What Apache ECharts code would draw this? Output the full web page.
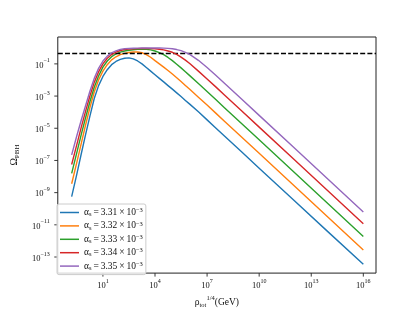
<!DOCTYPE html>
<html><head><meta charset="utf-8">
<script src="https://cdn.jsdelivr.net/npm/echarts@6/dist/echarts.min.js"></script>
<style>html,body{margin:0;padding:0;background:#fff}#c{width:418px;height:314px}</style>
</head><body><div id="c"></div>
<script>
// log10 of rho_tot^{1/4} in GeV (shared x samples)
const log10Rho = [-0.8, -0.5, -0.25, 0, 0.25, 0.5, 0.75, 1, 1.25, 1.5, 1.75, 2, 2.25, 2.5, 2.75, 3, 3.25, 3.5, 3.75, 4, 4.25, 4.5, 4.75, 5, 5.25, 5.5, 5.75, 6, 6.5, 7, 7.5, 8, 9, 10, 12, 14, 16];
// log10 of Omega_PBH for each alpha_s
const log10OmegaA331 = [-9.25, -7.83, -6.6, -5.4, -4.25, -3.15, -2.35, -1.78, -1.36, -1.05, -0.85, -0.72, -0.65, -0.63, -0.69, -0.82, -1.0, -1.22, -1.45, -1.68, -1.9, -2.12, -2.35, -2.57, -2.8, -3.03, -3.27, -3.5, -3.98, -4.48, -4.98, -5.48, -6.48, -7.48, -9.47, -11.47, -13.45];
const log10OmegaA332 = [-8.45, -7.1, -5.95, -4.8, -3.72, -2.75, -2.0, -1.45, -1.05, -0.75, -0.56, -0.43, -0.35, -0.29, -0.26, -0.26, -0.31, -0.42, -0.59, -0.8, -1.0, -1.2, -1.41, -1.63, -1.86, -2.1, -2.34, -2.58, -3.07, -3.56, -4.06, -4.56, -5.56, -6.56, -8.56, -10.56, -12.56];
const log10OmegaA333 = [-7.8, -6.5, -5.4, -4.35, -3.35, -2.45, -1.75, -1.2, -0.82, -0.55, -0.38, -0.27, -0.2, -0.15, -0.12, -0.1, -0.09, -0.1, -0.13, -0.2, -0.3, -0.43, -0.6, -0.8, -1.02, -1.25, -1.49, -1.73, -2.22, -2.72, -3.22, -3.72, -4.72, -5.72, -7.72, -9.72, -11.72];
const log10OmegaA334 = [-7.25, -6.0, -4.95, -3.95, -3.0, -2.15, -1.5, -1.0, -0.65, -0.42, -0.27, -0.17, -0.11, -0.08, -0.06, -0.05, -0.04, -0.04, -0.05, -0.06, -0.09, -0.13, -0.2, -0.28, -0.41, -0.58, -0.77, -0.98, -1.45, -1.94, -2.43, -2.93, -3.93, -4.93, -6.93, -8.93, -10.93];
const log10OmegaA335 = [-6.65, -5.45, -4.5, -3.6, -2.7, -1.9, -1.28, -0.82, -0.52, -0.32, -0.19, -0.1, -0.06, -0.04, -0.03, -0.02, -0.01, -0.01, -0.01, -0.01, -0.015, -0.02, -0.04, -0.06, -0.11, -0.18, -0.28, -0.41, -0.78, -1.23, -1.71, -2.2, -3.2, -4.2, -6.2, -8.2, -10.2];
// dashed reference level (log10 Omega)
const log10OmegaRef = -0.35;
// legend labels / alpha_s values (x 10^-3)
const alphaLabels = ['3.31', '3.32', '3.33', '3.34', '3.35'];
// tick exponents
const xTickExps = [1, 4, 7, 10, 13, 16];
const yTickExps = [-13, -11, -9, -7, -5, -3, -1];

const seriesValues = [log10OmegaA331, log10OmegaA332, log10OmegaA333, log10OmegaA334, log10OmegaA335];
const colors = ['#1f77b4', '#ff7f0e', '#2ca02c', '#d62728', '#9467bd'];
const FONT = 'Liberation Serif';
const X_MIN = -1.6, X_MAX = 16.73, Y_MIN = -14.0, Y_MAX = 0.67;
const TS = '\u2009';

const powRich = {
  b: {fontFamily: FONT, fontSize: 8.5, color: '#111', lineHeight: 12, verticalAlign: 'bottom'},
  e: {fontFamily: FONT, fontSize: 6, color: '#111', lineHeight: 6, verticalAlign: 'top'}
};
function powLabel(v) {
  const n = Math.round(v);
  return '{b|10}{e|' + String(n).replace('-', '\u2212') + '}';
}

const series = seriesValues.map((vals, i) => ({
  name: 'a' + alphaLabels[i],
  type: 'line',
  data: log10Rho.map((x, j) => [x, vals[j]]),
  showSymbol: false,
  symbol: 'none',
  smooth: false,
  lineStyle: {color: colors[i], width: 1.4, join: 'round'},
  itemStyle: {color: colors[i]},
  z: 2 + i
}));
series.push({
  name: 'ref',
  type: 'line',
  data: [],
  silent: true,
  z: 10,
  markLine: {
    silent: true,
    symbol: 'none',
    label: {show: false},
    lineStyle: {color: '#000', width: 1.4, type: [5, 2.2]},
    data: [{yAxis: log10OmegaRef}]
  }
});

const chart = echarts.init(document.getElementById('c'), null, {renderer: 'canvas'});
chart.setOption({
  animation: false,
  backgroundColor: '#fff',
  grid: {left: 52, right: 42, top: 37, bottom: 35, show: true, borderColor: '#222', borderWidth: 1, backgroundColor: 'transparent'},
  xAxis: {
    type: 'value', min: X_MIN, max: X_MAX,
    axisLine: {show: false},
    splitLine: {show: false},
    axisTick: {show: false},
    axisLabel: {customValues: xTickExps, margin: 5, formatter: powLabel, rich: powRich},
    name: 'ρ{sub|tot}{sup|1/4}(GeV)',
    nameLocation: 'middle', nameGap: 15,
    nameTextStyle: {
      fontFamily: FONT, fontSize: 9.5, color: '#111', lineHeight: 14, verticalAlign: 'top',
      rich: {
        sub: {fontFamily: FONT, fontSize: 6.5, color: '#111', lineHeight: 6, verticalAlign: 'bottom'},
        sup: {fontFamily: FONT, fontSize: 6.5, color: '#111', lineHeight: 6, verticalAlign: 'top'}
      }
    }
  },
  yAxis: {
    type: 'value', min: Y_MIN, max: Y_MAX,
    axisLine: {show: false},
    splitLine: {show: false},
    axisTick: {show: false},
    axisLabel: {customValues: yTickExps, margin: 8, formatter: powLabel, rich: powRich},
    name: 'Ω{sub|PBH}',
    nameLocation: 'middle', nameGap: 35, nameRotate: 90,
    nameTextStyle: {
      fontFamily: FONT, fontSize: 10, color: '#111', lineHeight: 13,
      rich: {sub: {fontFamily: FONT, fontSize: 7, color: '#111', lineHeight: 7, verticalAlign: 'bottom'}}
    }
  },
  legend: {
    orient: 'vertical', left: 57, top: 204,
    data: alphaLabels.map(a => ({name: 'a' + a})),
    icon: 'rect', itemWidth: 19, itemHeight: 1.5, itemGap: 2.4,
    padding: [3, 3, 3, 3],
    backgroundColor: 'rgba(255,255,255,0.8)',
    borderColor: '#cccccc', borderWidth: 1, borderRadius: 2,
    formatter: n => '{t|α}{s|s}{t|' + TS + '=' + TS + n.slice(1) + TS + '×' + TS + '10}{e|−3}',
    textStyle: {
      fontFamily: FONT, fontSize: 9.5, color: '#111', lineHeight: 11,
      rich: {
        t: {fontFamily: FONT, fontSize: 9.5, color: '#111', lineHeight: 11},
        s: {fontFamily: FONT, fontSize: 6.5, color: '#111', lineHeight: 6, verticalAlign: 'bottom'},
        e: {fontFamily: FONT, fontSize: 6.5, color: '#111', lineHeight: 6, verticalAlign: 'top'}
      }
    }
  },
  series: series
});

// major ticks (outward), positioned through the axes' own scales
const TICK = 3.5;
const tickEls = [];
xTickExps.forEach(e => {
  const p = chart.convertToPixel({xAxisIndex: 0, yAxisIndex: 0}, [e, Y_MIN]);
  tickEls.push({type: 'line', silent: true, shape: {x1: p[0], y1: p[1], x2: p[0], y2: p[1] + TICK}, style: {stroke: '#222', lineWidth: 0.9}});
});
yTickExps.forEach(e => {
  const p = chart.convertToPixel({xAxisIndex: 0, yAxisIndex: 0}, [X_MIN, e]);
  tickEls.push({type: 'line', silent: true, shape: {x1: p[0] - TICK, y1: p[1], x2: p[0], y2: p[1]}, style: {stroke: '#222', lineWidth: 0.9}});
});
chart.setOption({graphic: {elements: tickEls}});
</script></body></html>
